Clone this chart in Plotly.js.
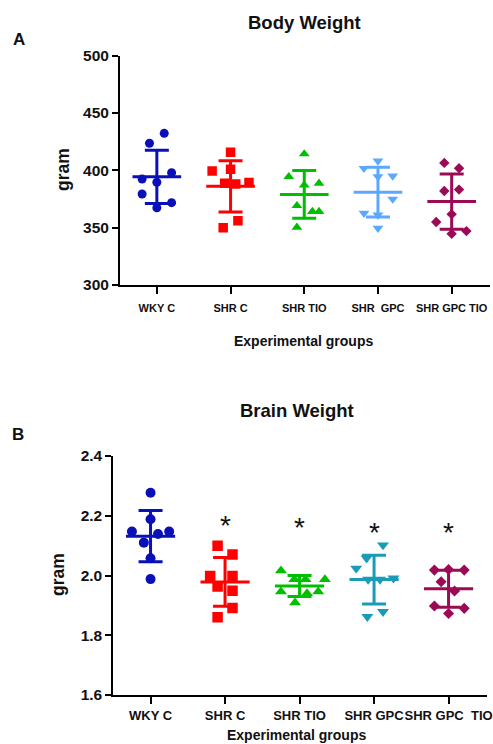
<!DOCTYPE html>
<html>
<head>
<meta charset="utf-8">
<script src="https://cdn.plot.ly/plotly-3.0.1.min.js"></script>
<style>html,body{margin:0;padding:0;background:#fff;}#chart{width:493px;height:744px;}</style>
</head>
<body>
<div id="chart"></div>
<script>
// ---------- DATA ----------
const bodyCategories = ['WKY C', 'SHR C', 'SHR TIO', 'SHR  GPC', 'SHR GPC TIO'];
const brainCategories = ['WKY C', 'SHR C', 'SHR TIO', 'SHR GPC', 'SHR GPC  TIO'];

// Body weight (gram), 8 animals per group
const bodyWKYC      = [432.3, 423.6, 392.5, 398.0, 389.6, 379.4, 371.8, 367.4];
const bodySHRC      = [415.7, 399.4, 400.9, 389.3, 388.7, 388.1, 356.1, 350.0];
const bodySHRTIO    = [414.3, 394.5, 388.7, 387.2, 369.2, 364.0, 364.0, 350.3];
const bodySHRGPC    = [408.2, 401.8, 394.5, 395.1, 375.0, 362.6, 361.1, 349.5];
const bodySHRGPCTIO = [406.5, 401.8, 382.0, 383.2, 361.8, 355.0, 344.6, 347.0];

// Brain weight (gram)
const brainWKYC      = [2.277, 2.188, 2.147, 2.147, 2.139, 2.110, 2.058, 1.988];
const brainSHRC      = [2.100, 2.070, 1.998, 1.998, 1.963, 1.949, 1.891, 1.860];
const brainSHRTIO    = [2.016, 1.987, 1.987, 1.987, 1.946, 1.940, 1.946, 1.909];
const brainSHRGPC    = [2.102, 2.058, 2.024, 1.987, 1.987, 1.991, 1.879, 1.862];
const brainSHRGPCTIO = [2.018, 2.018, 2.020, 1.979, 1.948, 1.898, 1.890, 1.873];

// horizontal scatter of points within a group (category units)
const bodyJitter = [
  [0.10, -0.10, -0.20, 0.20, 0.00, -0.20, 0.20, 0.00],
  [0.00, -0.25, 0.00, 0.25, -0.08, 0.07, 0.10, -0.10],
  [0.00, -0.21, 0.20, 0.00, -0.10, 0.11, 0.20, -0.10],
  [0.00, -0.19, 0.00, 0.20, 0.20, -0.19, 0.00, 0.00],
  [-0.10, 0.10, -0.10, 0.10, 0.00, -0.21, 0.00, 0.20]
];
const brainJitter = [
  [0.00, 0.00, -0.25, 0.25, 0.10, -0.09, 0.00, 0.00],
  [-0.10, 0.10, -0.20, 0.10, -0.10, 0.10, 0.10, -0.10],
  [-0.25, 0.34, -0.07, 0.08, -0.25, 0.10, 0.25, -0.06],
  [0.12, -0.10, -0.24, -0.08, 0.08, 0.26, 0.12, -0.09],
  [-0.19, 0.21, 0.00, -0.10, 0.08, -0.19, 0.21, 0.00]
];

// significance marks (*) above groups in brain weight panel
const brainSigY = [null, 2.191, 2.183, 2.169, 2.169];

// ---------- STYLE ----------
const bodyColors  = ['#0a10b8', '#ff0000', '#00bf00', '#5ba8ff', '#9b0a55'];
const brainColors = ['#0a10b8', '#ff0000', '#00bf00', '#1b9bb6', '#9b0a55'];
const symbols = ['circle', 'square', 'triangle-up', 'triangle-down', 'diamond'];
const bodySizes  = [9, 9.5, 9.5, 9.5, 8];
const brainSizes = [10, 10.5, 10.5, 10.5, 8.5];
const FONT = 'Arial, "Liberation Sans", sans-serif';

const bodyGroups  = [bodyWKYC, bodySHRC, bodySHRTIO, bodySHRGPC, bodySHRGPCTIO];
const brainGroups = [brainWKYC, brainSHRC, brainSHRTIO, brainSHRGPC, brainSHRGPCTIO];

function mean(a) { return a.reduce((s, v) => s + v, 0) / a.length; }
function sd(a) { const m = mean(a); return Math.sqrt(a.reduce((s, v) => s + (v - m) * (v - m), 0) / (a.length - 1)); }

const traces = [];
function addPanel(groups, jitter, colors, sizes, xa, ya) {
  const lineTraces = [];
  groups.forEach((vals, i) => {
    traces.push({
      type: 'scatter', mode: 'markers', xaxis: xa, yaxis: ya,
      x: vals.map((v, k) => i + jitter[i][k]), y: vals,
      marker: { symbol: symbols[i], size: sizes[i], color: colors[i], line: { width: 0 } },
      hoverinfo: 'y'
    });
    const m = mean(vals), s = sd(vals);
    lineTraces.push({
      type: 'scatter', mode: 'lines', xaxis: xa, yaxis: ya,
      x: [i - 0.33, i + 0.33], y: [m, m],
      line: { color: colors[i], width: 3 }, hoverinfo: 'skip'
    });
    lineTraces.push({
      type: 'scatter', mode: 'markers', xaxis: xa, yaxis: ya,
      x: [i], y: [m],
      marker: { size: 1, color: 'rgba(0,0,0,0)' },
      error_y: { type: 'data', array: [s], visible: true, width: 12, thickness: 3, color: colors[i] },
      hoverinfo: 'skip'
    });
  });
  lineTraces.forEach(t => traces.push(t));
}
addPanel(bodyGroups, bodyJitter, bodyColors, bodySizes, 'x', 'y');
addPanel(brainGroups, brainJitter, brainColors, brainSizes, 'x2', 'y2');

const W = 493, H = 744;
const px = v => v / W, py = v => 1 - v / H;

function xaxisDef(dom, cats, fsize, anchor, standoff) {
  return {
    domain: dom, anchor: anchor, range: [-0.5, 4.52],
    tickmode: 'array', tickvals: [0, 1, 2, 3, 4], ticktext: cats,
    tickangle: 0,
    showline: true, linewidth: 2, linecolor: '#000', mirror: false,
    ticks: 'outside', ticklen: 7, tickwidth: 2, tickcolor: '#000',
    ticklabelstandoff: standoff,
    tickfont: { family: FONT, size: fsize, color: '#111', weight: 'bold' },
    showgrid: false, zeroline: false, fixedrange: true
  };
}
function yaxisDef(dom, range, tv, fmt, anchor) {
  return {
    domain: dom, anchor: anchor, range: range,
    tickmode: 'array', tickvals: tv, tickformat: fmt,
    showline: true, linewidth: 2, linecolor: '#000',
    ticks: 'outside', ticklen: 6, tickwidth: 2, tickcolor: '#000',
    tickfont: { family: FONT, size: 15.5, color: '#111', weight: 'bold' },
    showgrid: false, zeroline: false, fixedrange: true
  };
}

const annotations = [
  { text: 'Body Weight', x: px(304), y: py(23), font: { size: 18.5 } },
  { text: 'A', x: px(19), y: py(40), font: { size: 17 } },
  { text: 'gram', x: px(63), y: py(170), textangle: -90, font: { size: 17.5 } },
  { text: 'Experimental groups', x: px(303), y: py(341), font: { size: 14 } },
  { text: 'Brain Weight', x: px(297), y: py(411), font: { size: 18.5 } },
  { text: 'B', x: px(18), y: py(434), font: { size: 17 } },
  { text: 'gram', x: px(58), y: py(575), textangle: -90, font: { size: 17.5 } },
  { text: 'Experimental groups', x: px(296), y: py(735), font: { size: 14 } }
].map(a => Object.assign({
  xref: 'paper', yref: 'paper', showarrow: false, xanchor: 'center', yanchor: 'middle',
}, a, { font: Object.assign({ family: FONT, color: '#111', weight: 'bold' }, a.font) }));

brainSigY.forEach((v, i) => {
  if (v === null) return;
  annotations.push({
    xref: 'x2', yref: 'y2', x: i, y: v, text: '*', showarrow: false,
    xanchor: 'center', yanchor: 'middle', yshift: -7,
    font: { family: FONT, size: 28, color: '#111' }
  });
});

const layout = {
  width: W, height: H,
  margin: { l: 0, r: 0, t: 0, b: 0 },
  paper_bgcolor: '#fff', plot_bgcolor: '#fff',
  showlegend: false,
  xaxis: xaxisDef([px(120), px(490)], bodyCategories, 11, 'y', 5),
  yaxis: yaxisDef([py(285), py(55.7)], [300, 500], [300, 350, 400, 450, 500], 'd', 'x'),
  xaxis2: xaxisDef([px(113.3), px(487.3)], brainCategories, 13, 'y2', 0),
  yaxis2: yaxisDef([py(695), py(456)], [1.6, 2.4], [1.6, 1.8, 2.0, 2.2, 2.4], '.1f', 'x2'),
  annotations: annotations
};

Plotly.newPlot('chart', traces, layout, { displayModeBar: false, staticPlot: true });
</script>
</body>
</html>
